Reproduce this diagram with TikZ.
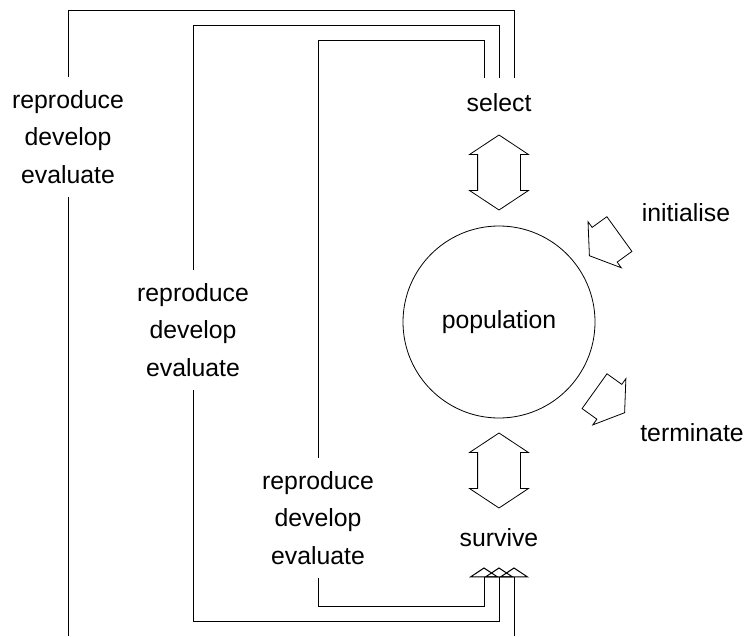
\documentclass[tikz,border=0pt]{standalone}
\usepackage{fontspec}
\setmainfont{Liberation Sans}
\usetikzlibrary{positioning,arrows.meta,shapes.arrows}

\tikzset{
  txt/.style={font=\fontsize{12.4}{18.75}\selectfont},
  stage/.style={txt,align=center,inner sep=6.5pt},
  io/.style={txt,text height=9pt,text depth=2.5pt,inner sep=8pt},
  pop/.style={txt,circle,draw,minimum size=96pt,inner sep=0pt},
  swap/.style={draw,double arrow,minimum height=37.5pt,inner xsep=0pt,inner ysep=10.5pt,
    double arrow head extend=4pt,double arrow tip angle=113,rotate=90},
  flow/.style={draw,single arrow,minimum height=18.5pt,inner xsep=0pt,inner ysep=10.5pt,
    single arrow head extend=3.5pt,single arrow tip angle=113},
  loop/.style={line width=0.5pt},
  into/.style={loop,-{Triangle[open,width=15pt,length=5pt]}}
}

\begin{document}
\begin{tikzpicture}[x=0.5pt,y=-0.5pt]
  \useasboundingbox (0,0) rectangle (748,636);
  % the population and what goes in and out of it
  \node[pop] (pop) at (499,322) {population};
  \node[io,anchor=base] (sel) at (499,112) {select};
  \node[io,anchor=base] (surv) at (499,546) {survive};
  \node[swap] (selarr) at (499,172.5) {};
  \node[swap] (survarr) at (499,470.5) {};
  \node[flow,rotate=215.8,anchor=tip] (initarr) at (589,256) {};
  \node[flow,rotate=-35.6,anchor=tip] (termarr) at (625,413) {};
  \node[txt] (init) at (686,213) {initialise};
  \node[txt] (term) at (692,433) {terminate};
  % three generation loops
  \node[stage] (rde1) at (68,137) {reproduce\\develop\\evaluate};
  \node[stage] (rde2) at (193,330) {reproduce\\develop\\evaluate};
  \node[stage] (rde3) at (318,518) {reproduce\\develop\\evaluate};
  \coordinate (exitR) at (514,636);
  \draw[loop] ([xshift=-7.5pt]sel.north) |- (rde3.north |- 0,41) -- (rde3.north);
  \draw[loop] (sel.north) |- (rde2.north |- 0,26) -- (rde2.north);
  \draw[loop] ([xshift=7.5pt]sel.north) |- (rde1.north |- 0,11) -- (rde1.north);
  \draw[into] (rde3.south) |- ([xshift=-7.5pt]surv.south |- 0,606) -- ([xshift=-7.5pt]surv.south);
  \draw[into] (rde2.south) |- (surv.south |- 0,621) -- (surv.south);
  \draw[into] (exitR) -- ([xshift=7.5pt]surv.south);
  \draw[loop] (rde1.south) -- (rde1.south |- exitR);
\end{tikzpicture}
\end{document}
